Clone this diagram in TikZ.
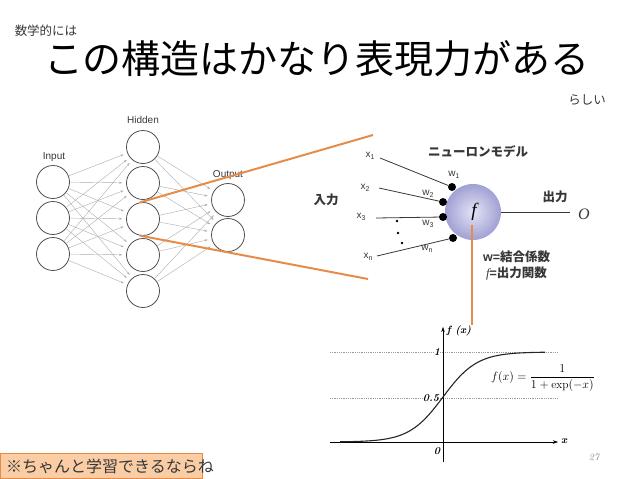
\documentclass[tikz,border=0pt]{standalone}
\usepackage{fontspec}
\usepackage{amsmath}
\newfontfamily\jp{Noto Sans CJK JP}
\newfontfamily\lsans{Liberation Sans}
\newfontfamily\lserif{Liberation Serif}
\usetikzlibrary{arrows.meta}
\definecolor{orng}{RGB}{230,140,75}
\definecolor{boxfill}{RGB}{250,205,165}
\definecolor{unitline}{RGB}{80,80,80}
\definecolor{txt}{RGB}{55,55,55}
\begin{document}
\begin{tikzpicture}[x=1pt,y=-1pt,
  unit/.style={circle, draw=unitline, line width=0.8pt, minimum size=33pt, inner sep=0pt},
  conn/.style={draw=gray!65, line width=0.4pt, -{Stealth[length=3pt,width=2.2pt]}, shorten >=4pt, shorten <=0.5pt},
  orangeline/.style={draw=orng, line width=2pt},
  netlabel/.style={font=\lsans\fontsize{10}{11}\selectfont, text=txt},
  jplabel/.style={font=\jp\bfseries\fontsize{12.5}{14}\selectfont, text=txt},
  xlabel/.style={font=\lsans\fontsize{10}{11}\selectfont, text=txt, inner sep=0.5pt},
  dotw/.style={circle, fill=black, minimum size=8pt, inner sep=0pt},
  wline/.style={draw=txt, line width=0.8pt},
  smalldot/.style={circle, fill=black, minimum size=2.6pt, inner sep=0pt},
  plotlabel/.style={font=\bfseries\itshape\fontsize{10.5}{11}\selectfont, inner sep=0.5pt},
  guide/.style={draw=gray!80, densely dotted, line width=0.8pt}
]
\useasboundingbox (0,0) rectangle (638,479);

% titles
\node[font=\jp\fontsize{12.5}{14}\selectfont, text=txt, inner sep=0pt] (sub) at (46,31) {数学的には};
\node[font=\jp\fontsize{39}{42}\selectfont, inner sep=0pt] (title) at (317,59) {この構造はかなり表現力がある};
\node[font=\jp\fontsize{12.5}{14}\selectfont, text=txt] (rashii) at (587,100) {らしい};

% network
\foreach \k/\y in {1/182,2/218,3/254} \node[unit] (i\k) at (53,\y) {};
\foreach \k/\y in {1/147,2/183,3/219,4/255,5/291} \node[unit] (h\k) at (143,\y) {};
\foreach \k/\y in {1/200,2/235} \node[unit] (o\k) at (228,\y) {};
\foreach \a in {1,2,3} \foreach \b in {1,...,5} \draw[conn] (i\a) -- (h\b);
\foreach \a in {1,...,5} \foreach \b in {1,2} \draw[conn] (h\a) -- (o\b);
\node[netlabel] (linput) at (54,157) {Input};
\node[netlabel] (lhidden) at (143,120) {Hidden};
\node[netlabel] (loutput) at (228,175) {Output};

% neuron model
\node[circle, minimum size=56pt, inner sep=0pt, inner color={rgb,255:red,228;green,228;blue,246}, outer color={rgb,255:red,160;green,160;blue,212}] (nf) at (473,212) {};
\node[font=\lserif\itshape\fontsize{19}{19}\selectfont] (fsym) at (474,212) {f};
\node[dotw] (d1) at (452,187) {};
\node[dotw] (d2) at (443,202) {};
\node[dotw] (d3) at (443,217) {};
\node[dotw] (dn) at (453,238) {};
\coordinate (c1) at (380,158);
\coordinate (c2) at (379,188);
\coordinate (c3) at (376,218);
\coordinate (cn) at (377,256);
\draw[wline] (c1) -- (d1);
\draw[wline] (c2) -- (d2);
\draw[wline] (c3) -- (d3);
\draw[wline] (cn) -- (dn);
\node[xlabel] (lx1) at (370,156) {x\raisebox{-2.5pt}{\fontsize{7}{7}\selectfont 1}};
\node[xlabel] (lx2) at (365,188) {x\raisebox{-2.5pt}{\fontsize{7}{7}\selectfont 2}};
\node[xlabel] (lx3) at (361,217) {x\raisebox{-2.5pt}{\fontsize{7}{7}\selectfont 3}};
\node[xlabel] (lxn) at (368,257) {x\raisebox{-2.5pt}{\fontsize{7}{7}\selectfont n}};
\node[xlabel] (lw1) at (454,175) {w\raisebox{-2.5pt}{\fontsize{7}{7}\selectfont 1}};
\node[xlabel] (lw2) at (428,194) {w\raisebox{-2.5pt}{\fontsize{7}{7}\selectfont 2}};
\node[xlabel] (lw3) at (428,224) {w\raisebox{-2.5pt}{\fontsize{7}{7}\selectfont 3}};
\node[xlabel] (lwn) at (427,249) {w\raisebox{-2.5pt}{\fontsize{7}{7}\selectfont n}};
\node[smalldot] (v1) at (397,221) {};
\node[smalldot] (v2) at (398,233) {};
\node[smalldot] (v3) at (402,243) {};
\node[jplabel] (lin) at (326,200) {入力};
\node[jplabel] (lmodel) at (478,152) {ニューロンモデル};
\node[jplabel] (lout) at (555,197) {出力};
\coordinate (co) at (570,212);
\draw[draw=txt, line width=0.8pt] (nf.east) -- (co);
\node[font=\lserif\itshape\fontsize{16}{16}\selectfont, text=txt] (osym) at (584,214) {O};
\node[jplabel, anchor=west, inner sep=0pt] (lw) at (483,257) {\lsans w=\jp 結合係数};
\node[jplabel, anchor=west, inner sep=0pt] (lf) at (486,273) {{\lserif\itshape\mdseries f}\lsans =\jp 出力関数};

% orange connectors
\coordinate (ot) at (373,135);
\coordinate (ob) at (368,279);
\coordinate (vs) at (472,225);
\coordinate (ve) at (472,325);
\draw[orangeline] (h3.100) -- (ot);
\draw[orangeline] (h3.260) -- (ob);
\draw[orangeline] (vs) -- (ve);

% sigmoid plot
\coordinate (xa0) at (330,442);
\coordinate (xa1) at (558,442);
\coordinate (ya0) at (443,462);
\coordinate (ya1) at (443,327);
\coordinate (g1a) at (330,352);
\coordinate (g1b) at (557,352);
\coordinate (g5a) at (330,398);
\coordinate (g5b) at (557,398);
\draw[guide] (g1a) -- (g1b);
\draw[guide] (g5a) -- (g5b);
\draw[line width=0.5pt, -{Stealth[length=5pt,width=3.5pt]}] (xa0) -- (xa1);
\draw[line width=0.5pt, -{Stealth[length=5pt,width=3.5pt]}] (ya0) -- (ya1);
\draw[line width=1.1pt, black!85] plot[domain=-6.05:6, samples=90, smooth] ({443+17*\x}, {442-90/(1+exp(-\x))});
\node[plotlabel, anchor=west] (lfx) at (446,331) {f (x)};
\node[plotlabel, fill=white, inner sep=0.3pt] (l1) at (437,352) {1};
\node[plotlabel, fill=white, inner sep=0.3pt] (l05) at (431,398) {0.5};
\node[plotlabel] (l0) at (437,451) {0};
\node[plotlabel] (lxx) at (564,441) {x};
\node[font=\fontsize{11.5}{12}\selectfont] (formula) at (543,378) {$f(x)=\dfrac{1}{1+\exp(-x)}$};

% page number
\node[font=\itshape\fontsize{10}{11}\selectfont, text=gray] (pnum) at (594,457) {27};

% bottom note
\node[draw=orng, fill=boxfill, minimum width=202pt, minimum height=25pt, anchor=north west, inner sep=0pt] (nbox) at (0,453) {};
\node[font=\jp\fontsize{16}{17}\selectfont, text=txt, anchor=west, inner sep=0pt] (note) at (6,466) {※ちゃんと学習できるならね};
\end{tikzpicture}
\end{document}
